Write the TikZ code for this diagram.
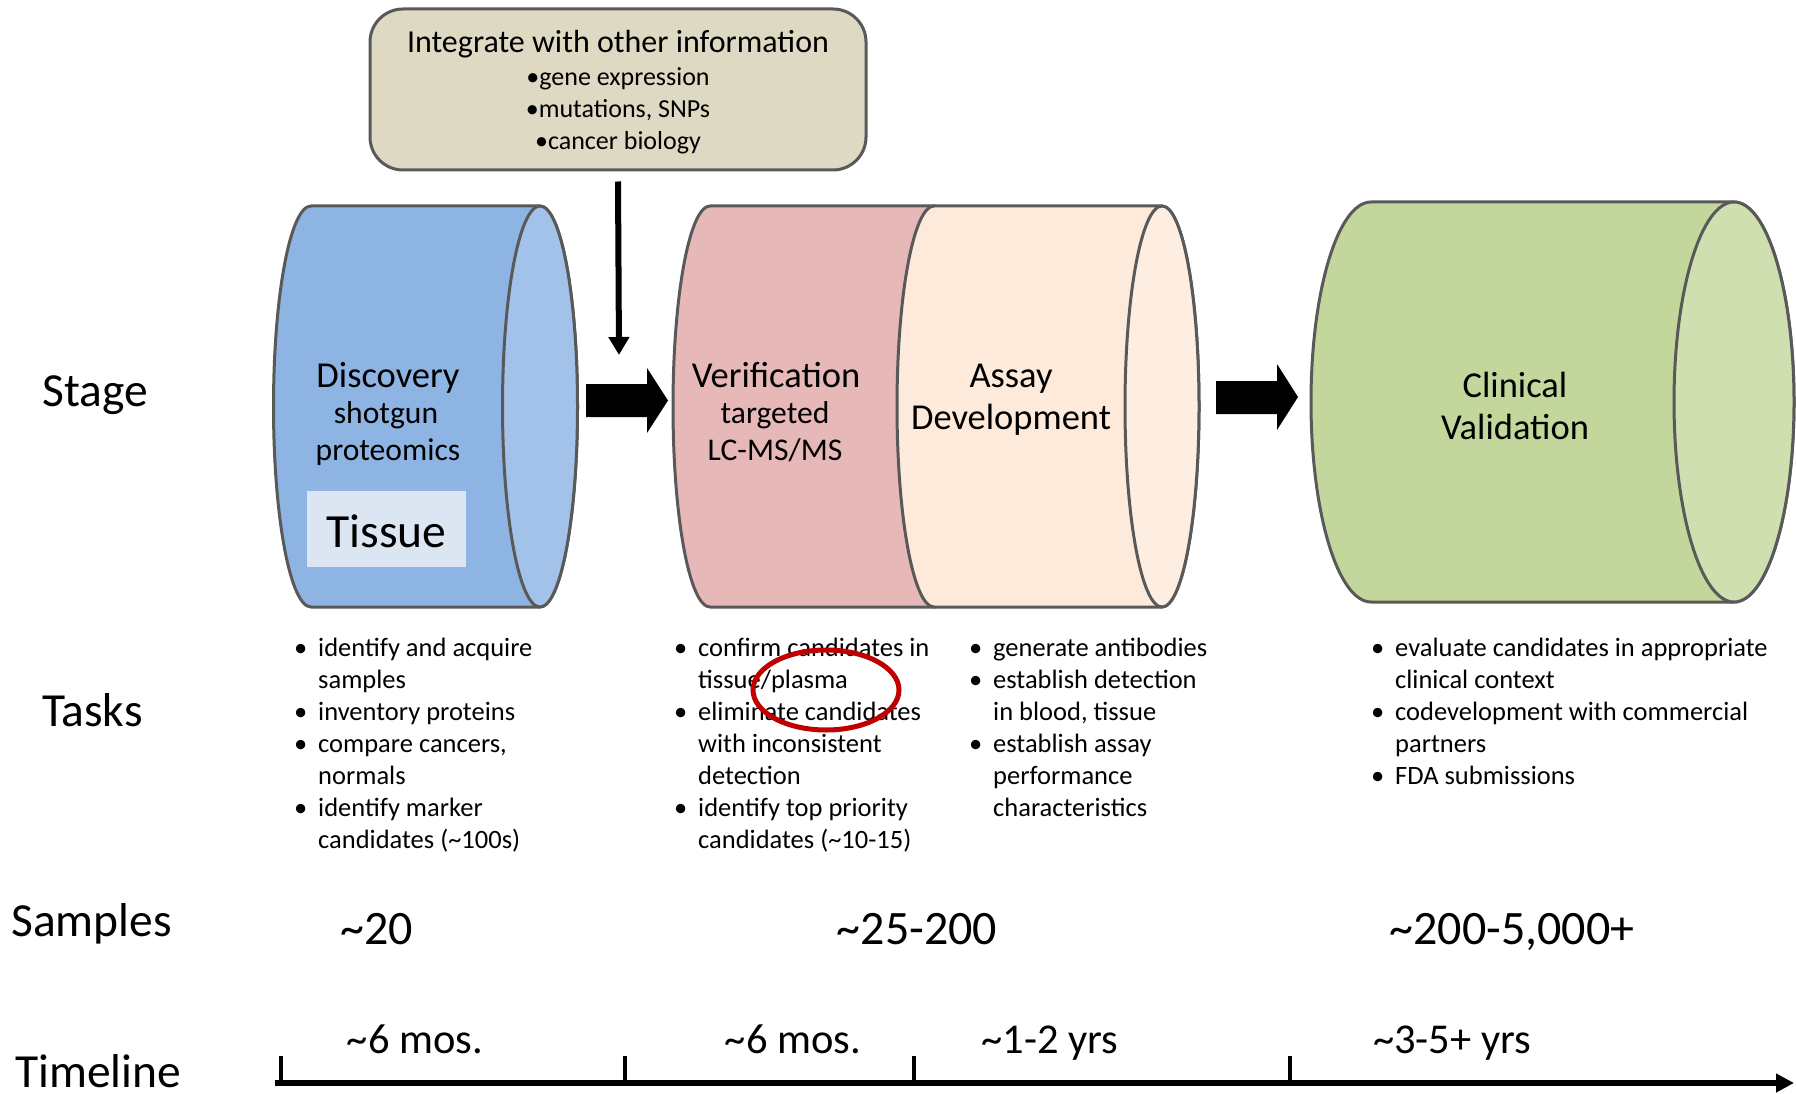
\documentclass[tikz,border=0pt]{standalone}
\usepackage{fontspec}
\setmainfont{Carlito}
\usetikzlibrary{arrows.meta}
\definecolor{edge}{HTML}{595959}
\definecolor{infofill}{HTML}{DDD9C3}
\definecolor{bluebody}{HTML}{8EB4E3}
\definecolor{bluecap}{HTML}{A3C2E9}
\definecolor{tissuefill}{HTML}{DCE6F2}
\definecolor{pinkbody}{HTML}{E6B9B8}
\definecolor{peachbody}{HTML}{FDEADA}
\definecolor{peachcap}{HTML}{FEEEE2}
\definecolor{greenbody}{HTML}{C3D69B}
\definecolor{greencap}{HTML}{CFDFAF}
\definecolor{circred}{HTML}{C00000}
\newcommand\tbul{\llap{•\hspace{11pt}}}
% #1 xl, #2 xr, #3 top, #4 bottom, #5 rx, #6 ry, #7 fill
\newcommand\cylbody[7]{%
  \draw[cyl, fill=#7] (#1,#3) -- (#2,#3)
    arc[start angle=90, end angle=-90, x radius=#5pt, y radius=#6pt]
    -- (#1,#4)
    arc[start angle=270, end angle=90, x radius=#5pt, y radius=#6pt]
    -- cycle;}
\tikzset{
  cyl/.style={draw=edge, line width=3pt, line join=round},
  txt/.style={inner sep=0pt, anchor=base},
  stagetxt/.style={txt, font=\fontsize{36.5}{44}\selectfont},
  subtxt/.style={txt, font=\fontsize{31.6}{38}\selectfont},
  rowlbl/.style={inner sep=0pt, anchor=base west, font=\fontsize{47.5}{57}\selectfont},
  bigval/.style={txt, font=\fontsize{48}{58}\selectfont},
  timetxt/.style={txt, font=\fontsize{42.5}{51}\selectfont},
  tsk/.style={inner sep=0pt, anchor=base west, font=\fontsize{26.5}{32}\selectfont},
  infotxt/.style={txt, font=\fontsize{26}{32}\selectfont},
  topbox/.style={draw=edge, line width=3pt, fill=infofill, rounded corners=33pt,
    minimum width=496pt, minimum height=161pt, inner sep=0pt},
  blockarrow/.style={fill=black, draw=none},
  thinarrow/.style={line width=6pt, -{Triangle[width=20pt,length=18pt]}},
  axis/.style={line width=6pt, -{Triangle[width=18pt,length=18pt]}},
  tick/.style={line width=3.5pt},
  redring/.style={draw=circred, line width=5pt},
}
\begin{document}
\begin{tikzpicture}[x=1pt,y=-1pt]
\useasboundingbox[fill=white] (0,0) rectangle (1796,1094);

% top information box
\node[topbox] (info) at (618,89.5) {};
\node[txt, font=\fontsize{32}{38}\selectfont] (info1) at (618,53) {Integrate with other information};
\node[infotxt] (info2) at (618,86) {•gene expression};
\node[infotxt] (info3) at (618,118) {•mutations, SNPs};
\node[infotxt] (info4) at (618,150) {•cancer biology};

% down arrow
\coordinate (downend) at (619,355);
\draw[thinarrow] ([yshift=-10pt]info.south) -- (downend);

% cylinder 1: discovery
\cylbody{311}{540}{206}{607}{37.5}{200.5}{bluebody}
\draw[cyl, fill=bluecap] (540,406.5) ellipse [x radius=37.5pt, y radius=200.5pt];
\node[fill=tissuefill, minimum width=159pt, minimum height=76pt, inner sep=0pt] (tissuebox) at (386.5,529) {};
\node[txt, font=\fontsize{47.6}{57}\selectfont] (tissue) at (386.5,547) {Tissue};
\node[stagetxt] (disc1) at (388,387) {Discovery};
\node[subtxt] (disc2) at (386,423) {shotgun};
\node[subtxt] (disc3) at (388,460) {proteomics};

% arrow 1
\draw[blockarrow] (586,384) -- (647,384) -- (647,368) -- (668,400.5) -- (647,433) -- (647,417) -- (586,417) -- cycle;

% cylinder 2: verification + assay development
\cylbody{710}{934}{206}{607}{37}{200.5}{pinkbody}
\cylbody{934}{1162}{206}{607}{37}{200.5}{peachbody}
\draw[cyl, fill=peachcap] (1162,406.5) ellipse [x radius=37pt, y radius=200.5pt];
\node[stagetxt] (ver1) at (776,387) {Verification};
\node[subtxt] (ver2) at (775,423) {targeted};
\node[subtxt] (ver3) at (775,460) {LC-MS/MS};
\node[stagetxt] (assay1) at (1011,387) {Assay};
\node[stagetxt] (assay2) at (1011,429) {Development};

% arrow 2
\draw[blockarrow] (1216,381) -- (1277,381) -- (1277,364) -- (1298,397) -- (1277,430) -- (1277,414) -- (1216,414) -- cycle;

% cylinder 3: clinical validation
\cylbody{1371}{1734}{202}{602}{60}{200}{greenbody}
\draw[cyl, fill=greencap] (1734,402) ellipse [x radius=60pt, y radius=200pt];
\node[stagetxt] (clin1) at (1515,397) {Clinical};
\node[stagetxt] (clin2) at (1515,439) {Validation};

% row labels
\node[rowlbl] (stage) at (42,406) {Stage};
\node[rowlbl] (tasks) at (42,726) {Tasks};
\node[rowlbl] (samples) at (11,936) {Samples};
\node[rowlbl] (timeline) at (15,1087) {Timeline};

% tasks
\foreach \t [count=\i from 0] in {{\tbul identify and acquire}, samples, {\tbul inventory proteins}, {\tbul compare cancers,}, normals, {\tbul identify marker}, {candidates (\textasciitilde100s)}}
  \node[tsk] (ta\i) at (318,{656+32*\i}) {\t};
\foreach \t [count=\i from 0] in {{\tbul confirm candidates in}, tissue/plasma, {\tbul eliminate candidates}, with inconsistent, detection, {\tbul identify top priority}, {candidates (\textasciitilde10-15)}}
  \node[tsk] (tb\i) at (698,{656+32*\i}) {\t};
\foreach \t [count=\i from 0] in {{\tbul generate antibodies}, {\tbul establish detection}, {in blood, tissue}, {\tbul establish assay}, performance, characteristics}
  \node[tsk] (tc\i) at (993,{656+32*\i}) {\t};
\foreach \t [count=\i from 0] in {{\tbul evaluate candidates in appropriate}, clinical context, {\tbul codevelopment with commercial}, partners, {\tbul FDA submissions}}
  \node[tsk] (td\i) at (1395,{656+32*\i}) {\t};

% red ring
\draw[redring] (826,690) ellipse [x radius=73pt, y radius=40pt];

% samples
\node[bigval] (s1) at (377,944) {\textasciitilde20};
\node[bigval] (s2) at (917,944) {\textasciitilde25-200};
\node[bigval] (s3) at (1512,944) {\textasciitilde200-5,000+};

% timeline
\coordinate (axstart) at (275,1083);
\coordinate (axend) at (1794,1083);
\draw[axis] (axstart) -- (axend);
\foreach \x [count=\k] in {281,625,914,1290}
  \draw[tick] (\x,1056) coordinate (tk\k) -- (\x,1083);
\node[timetxt] (tl1) at (415,1053) {\textasciitilde6 mos.};
\node[timetxt] (tl2) at (793,1053) {\textasciitilde6 mos.};
\node[timetxt] (tl3) at (1050,1053) {\textasciitilde1-2 yrs};
\node[timetxt] (tl4) at (1452,1053) {\textasciitilde3-5+ yrs};
\end{tikzpicture}
\end{document}
